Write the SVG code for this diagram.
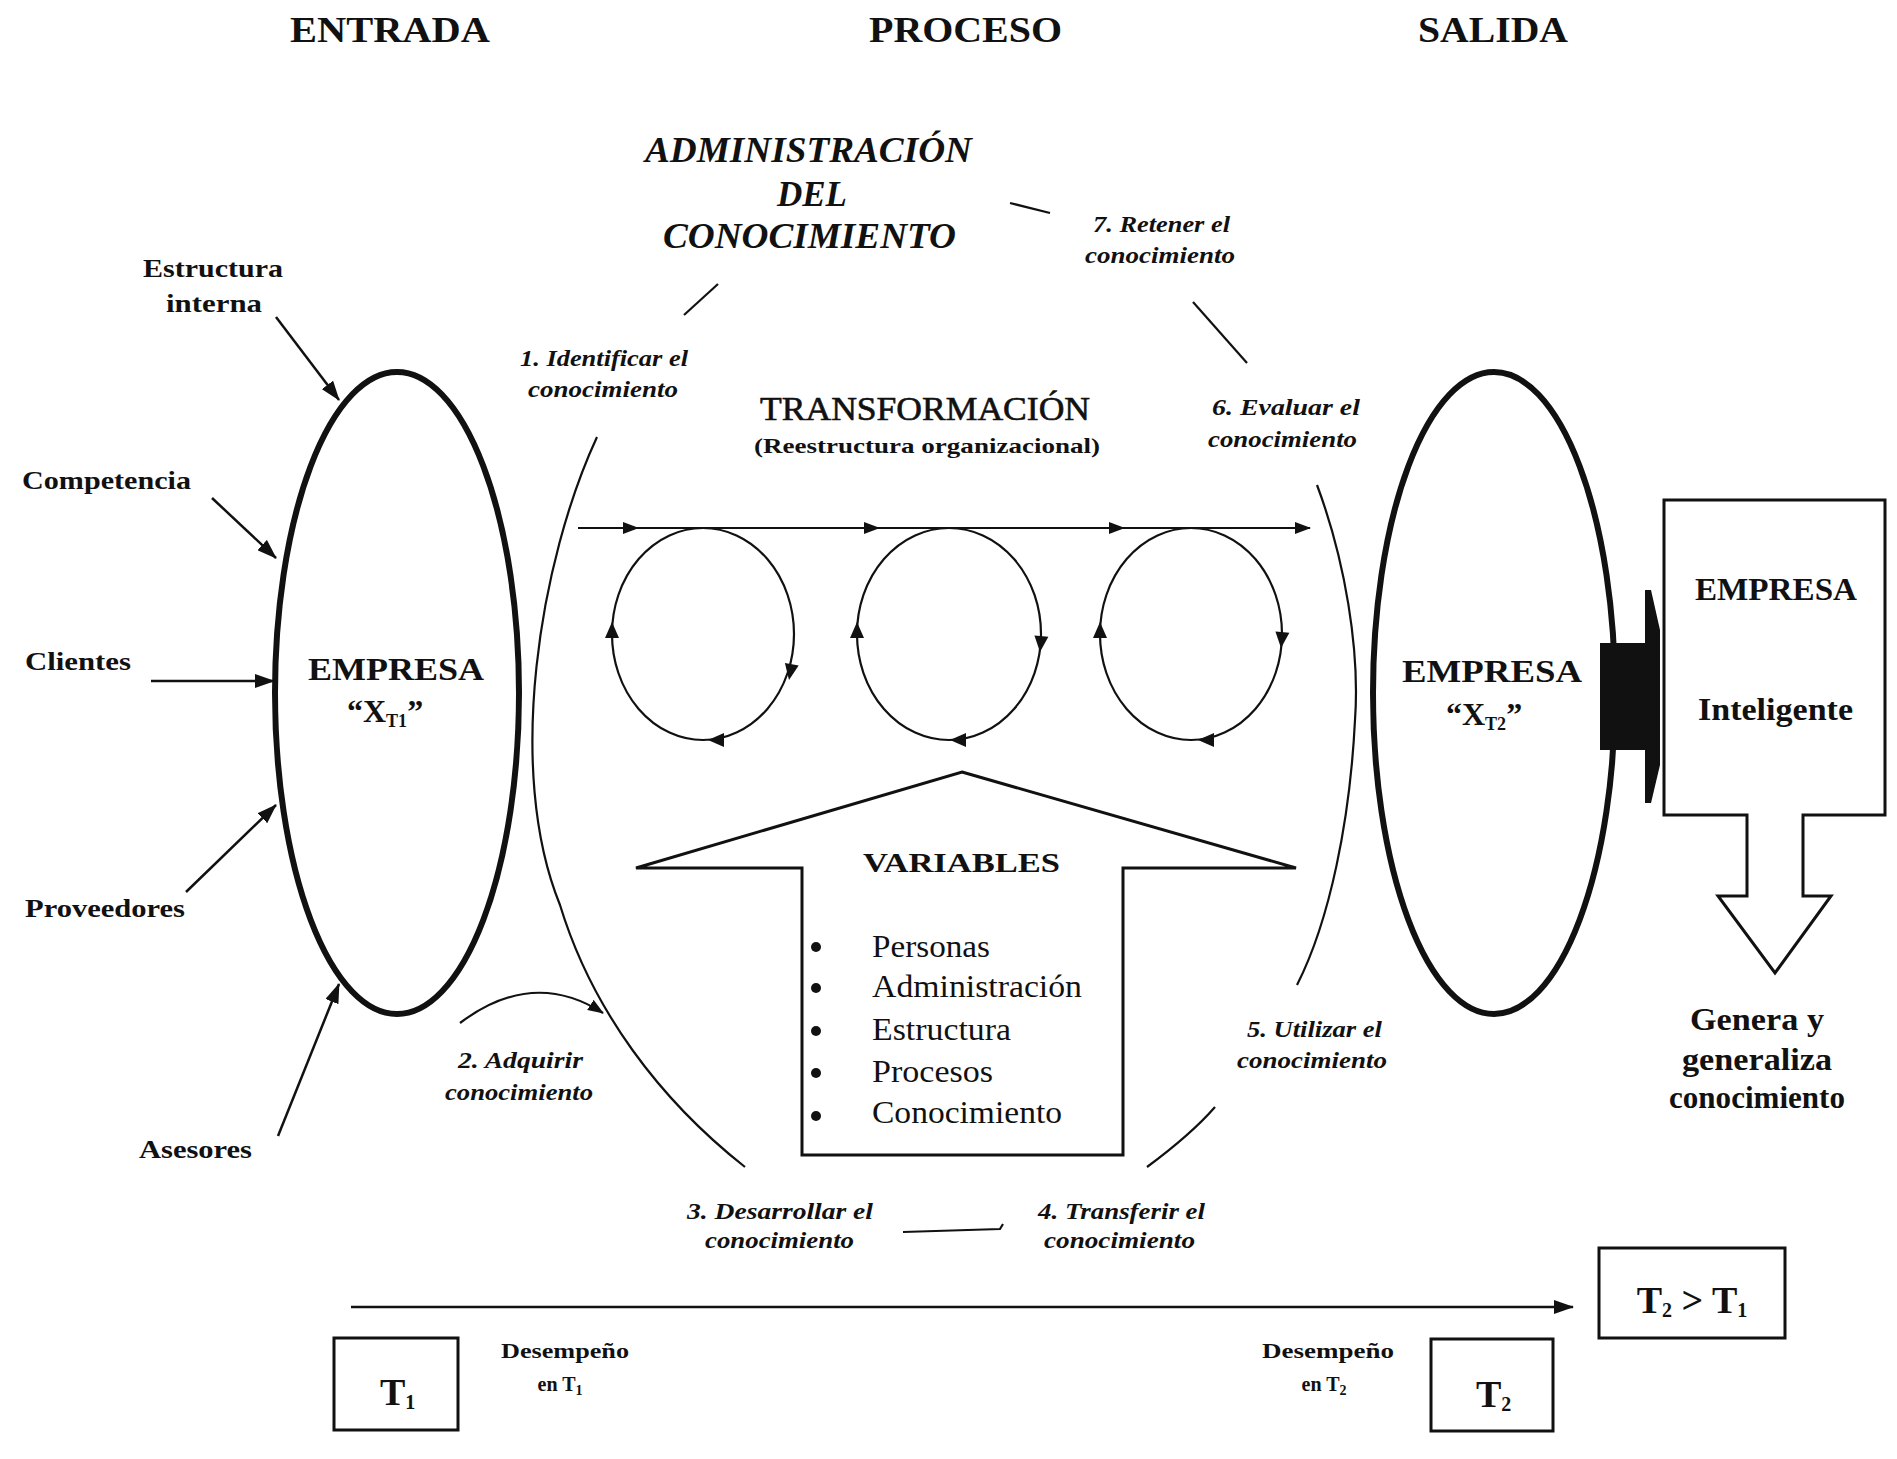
<svg xmlns="http://www.w3.org/2000/svg" xmlns:xlink="http://www.w3.org/1999/xlink" width="1897" height="1459" viewBox="0 0 1897 1459">
<style>
text{font-family:"Liberation Serif","Times New Roman",serif;fill:#111}
.title{font-size:36px;font-weight:bold}
.admin{font-size:36px;font-weight:bold;font-style:italic}
.lab{font-size:26px;font-weight:bold}
.step{font-size:24px;font-weight:bold;font-style:italic}
.emp{font-size:32px;font-weight:bold}
.list{font-size:32px}
.small{font-size:20px;font-weight:bold}
.big{font-size:38px;font-weight:bold}
.thick{fill:none;stroke:#111;stroke-width:6}
.thin{fill:none;stroke:#111;stroke-width:2.2}
.line{fill:none;stroke:#111;stroke-width:2.5}
.box{fill:#fff;stroke:#111;stroke-width:3}
.arr{fill:none;stroke:#111;stroke-width:2.5;marker-end:url(#ah)}
.arrs{fill:none;stroke:#111;stroke-width:2.2;marker-end:url(#ahs)}
</style>
<defs>
<marker id="ah" viewBox="0 0 20 14" refX="19" refY="7" markerWidth="20" markerHeight="14" markerUnits="userSpaceOnUse" orient="auto"><path d="M0,0 L20,7 L0,14 z" fill="#111"/></marker>
<marker id="ahs" viewBox="0 0 16 12" refX="15" refY="6" markerWidth="16" markerHeight="12" markerUnits="userSpaceOnUse" orient="auto"><path d="M0,0 L16,6 L0,12 z" fill="#111"/></marker>
<path id="tri" d="M0,0 L-16,-7 L-16,7 z" fill="#111"/>
</defs>
<rect width="1897" height="1459" fill="#fff"/>

<g id="headers">
<text class="title" x="290" y="42" textLength="200" lengthAdjust="spacingAndGlyphs">ENTRADA</text>
<text class="title" x="869" y="42" textLength="193" lengthAdjust="spacingAndGlyphs">PROCESO</text>
<text class="title" x="1418" y="42" textLength="150" lengthAdjust="spacingAndGlyphs">SALIDA</text>
</g>

<g id="admin-title">
<text class="admin" x="645" y="162" textLength="327" lengthAdjust="spacingAndGlyphs">ADMINISTRACIÓN</text>
<text class="admin" x="777" y="206" textLength="70" lengthAdjust="spacingAndGlyphs">DEL</text>
<text class="admin" x="663" y="248" textLength="293" lengthAdjust="spacingAndGlyphs">CONOCIMIENTO</text>
</g>

<g id="inputs">
<text class="lab" x="143" y="277" textLength="140" lengthAdjust="spacingAndGlyphs">Estructura</text>
<text class="lab" x="166" y="312" textLength="96" lengthAdjust="spacingAndGlyphs">interna</text>
<text class="lab" x="22" y="489" textLength="169" lengthAdjust="spacingAndGlyphs">Competencia</text>
<text class="lab" x="25" y="670" textLength="106" lengthAdjust="spacingAndGlyphs">Clientes</text>
<text class="lab" x="25" y="917" textLength="160" lengthAdjust="spacingAndGlyphs">Proveedores</text>
<text class="lab" x="139" y="1158" textLength="113" lengthAdjust="spacingAndGlyphs">Asesores</text>
</g>

<g id="empresa-t1">
<ellipse class="thick" cx="397" cy="693" rx="122" ry="321"/>
<text class="emp" x="308" y="680" textLength="176" lengthAdjust="spacingAndGlyphs">EMPRESA</text>
<text class="emp" x="347" y="722">“X<tspan font-size="18" dy="5">T1</tspan><tspan dy="-5">”</tspan></text>
</g>

<g id="empresa-t2">
<ellipse class="thick" cx="1494" cy="693" rx="121" ry="321"/>
<text class="emp" x="1402" y="682" textLength="180" lengthAdjust="spacingAndGlyphs">EMPRESA</text>
<text class="emp" x="1446" y="725">“X<tspan font-size="18" dy="5">T2</tspan><tspan dy="-5">”</tspan></text>
</g>

<g id="connector-block">
<rect x="1600" y="643" width="60" height="107" fill="#111"/>
<polygon points="1645,590 1651,590 1660,630 1660,765 1651,803 1645,803" fill="#111"/>
</g>

<g id="empresa-inteligente">
<polygon class="box" points="1664,500 1885,500 1885,815 1803,815 1803,896 1831,896 1775,973 1718,896 1747,896 1747,815 1664,815"/>
<text class="emp" x="1695" y="600" textLength="162" lengthAdjust="spacingAndGlyphs">EMPRESA</text>
<text class="emp" x="1698" y="720" textLength="155" lengthAdjust="spacingAndGlyphs">Inteligente</text>
</g>

<g id="genera">
<text class="emp" x="1757" y="1030" text-anchor="middle" font-size="28" textLength="134" lengthAdjust="spacingAndGlyphs">Genera y</text>
<text class="emp" x="1757" y="1070" text-anchor="middle" font-size="28" textLength="150" lengthAdjust="spacingAndGlyphs">generaliza</text>
<text class="emp" x="1757" y="1108" text-anchor="middle" font-size="28" textLength="176" lengthAdjust="spacingAndGlyphs">conocimiento</text>
</g>

<g id="transformacion">
<text x="760" y="420" font-size="33" textLength="330" lengthAdjust="spacingAndGlyphs" stroke="#111" stroke-width="0.6">TRANSFORMACIÓN</text>
<text x="754" y="453" font-size="22" font-weight="bold" textLength="346" lengthAdjust="spacingAndGlyphs">(Reestructura organizacional)</text>
</g>

<g id="cycles">
<ellipse class="thin" cx="703" cy="634" rx="91" ry="106"/>
<ellipse class="thin" cx="949" cy="634" rx="92" ry="106"/>
<ellipse class="thin" cx="1191" cy="634" rx="91" ry="106"/>
<use xlink:href="#tri" href="#tri" transform="translate(612,622) rotate(-90)"/>
<use xlink:href="#tri" href="#tri" transform="translate(789,680) rotate(100)"/>
<use xlink:href="#tri" href="#tri" transform="translate(708,740) rotate(180)"/>
<use xlink:href="#tri" href="#tri" transform="translate(857,622) rotate(-90)"/>
<use xlink:href="#tri" href="#tri" transform="translate(1040,652) rotate(95)"/>
<use xlink:href="#tri" href="#tri" transform="translate(950,740) rotate(180)"/>
<use xlink:href="#tri" href="#tri" transform="translate(1100,622) rotate(-90)"/>
<use xlink:href="#tri" href="#tri" transform="translate(1281,648) rotate(95)"/>
<use xlink:href="#tri" href="#tri" transform="translate(1198,740) rotate(180)"/>
</g>

<g id="variables">
<polygon class="box" points="962,772 1296,868 1123,868 1123,1155 802,1155 802,868 636,868"/>
<text x="863" y="872" font-size="28" font-weight="bold" textLength="197" lengthAdjust="spacingAndGlyphs">VARIABLES</text>
<circle cx="816" cy="947" r="5" fill="#111"/>
<circle cx="816" cy="988" r="5" fill="#111"/>
<circle cx="816" cy="1031" r="5" fill="#111"/>
<circle cx="816" cy="1073" r="5" fill="#111"/>
<circle cx="816" cy="1116" r="5" fill="#111"/>
<text class="list" x="872" y="957" textLength="118" lengthAdjust="spacingAndGlyphs">Personas</text>
<text class="list" x="872" y="997" textLength="210" lengthAdjust="spacingAndGlyphs">Administración</text>
<text class="list" x="872" y="1040" textLength="139" lengthAdjust="spacingAndGlyphs">Estructura</text>
<text class="list" x="872" y="1082" textLength="121" lengthAdjust="spacingAndGlyphs">Procesos</text>
<text class="list" x="872" y="1123" textLength="190" lengthAdjust="spacingAndGlyphs">Conocimiento</text>
</g>

<g id="steps">
<text class="step" x="520" y="366" textLength="168" lengthAdjust="spacingAndGlyphs">1. Identificar el</text>
<text class="step" x="528" y="397" textLength="150" lengthAdjust="spacingAndGlyphs">conocimiento</text>
<text class="step" x="458" y="1068" textLength="125" lengthAdjust="spacingAndGlyphs">2. Adquirir</text>
<text class="step" x="445" y="1100" textLength="148" lengthAdjust="spacingAndGlyphs">conocimiento</text>
<text class="step" x="687" y="1219" textLength="186" lengthAdjust="spacingAndGlyphs">3. Desarrollar el</text>
<text class="step" x="705" y="1248" textLength="149" lengthAdjust="spacingAndGlyphs">conocimiento</text>
<text class="step" x="1038" y="1219" textLength="167" lengthAdjust="spacingAndGlyphs">4. Transferir el</text>
<text class="step" x="1044" y="1248" textLength="151" lengthAdjust="spacingAndGlyphs">conocimiento</text>
<text class="step" x="1247" y="1037" textLength="135" lengthAdjust="spacingAndGlyphs">5. Utilizar el</text>
<text class="step" x="1237" y="1068" textLength="150" lengthAdjust="spacingAndGlyphs">conocimiento</text>
<text class="step" x="1212" y="415" textLength="148" lengthAdjust="spacingAndGlyphs">6. Evaluar el</text>
<text class="step" x="1208" y="447" textLength="149" lengthAdjust="spacingAndGlyphs">conocimiento</text>
<text class="step" x="1093" y="232" textLength="137" lengthAdjust="spacingAndGlyphs">7. Retener el</text>
<text class="step" x="1085" y="263" textLength="150" lengthAdjust="spacingAndGlyphs">conocimiento</text>
</g>

<g id="time">
<rect class="box" x="334" y="1338" width="124" height="92"/>
<text class="big" x="380" y="1405">T<tspan font-size="20" dy="4">1</tspan></text>
<rect class="box" x="1431" y="1339" width="122" height="92"/>
<text class="big" x="1476" y="1407">T<tspan font-size="20" dy="4">2</tspan></text>
<rect class="box" x="1599" y="1248" width="186" height="90"/>
<text class="big" x="1692" y="1313" text-anchor="middle">T<tspan font-size="20" dy="4">2</tspan><tspan dy="-4"> &gt; T</tspan><tspan font-size="20" dy="4">1</tspan></text>
<text class="small" x="565" y="1358" text-anchor="middle" textLength="128" lengthAdjust="spacingAndGlyphs">Desempeño</text>
<text class="small" x="560" y="1391" text-anchor="middle">en T<tspan font-size="14" dy="4">1</tspan></text>
<text class="small" x="1328" y="1358" text-anchor="middle" textLength="132" lengthAdjust="spacingAndGlyphs">Desempeño</text>
<text class="small" x="1324" y="1391" text-anchor="middle">en T<tspan font-size="14" dy="4">2</tspan></text>
</g>

<g id="connectors">
<line class="arr" x1="276" y1="317" x2="339" y2="400"/>
<line class="arr" x1="212" y1="498" x2="276" y2="558"/>
<line class="arr" x1="151" y1="681" x2="274" y2="681"/>
<line class="arr" x1="186" y1="892" x2="276" y2="805"/>
<line class="arr" x1="278" y1="1136" x2="339" y2="984"/>
<line class="arrs" x1="578" y1="528" x2="638" y2="528"/>
<line class="arrs" x1="638" y1="528" x2="879" y2="528"/>
<line class="arrs" x1="879" y1="528" x2="1124" y2="528"/>
<line class="arrs" x1="1124" y1="528" x2="1310" y2="528"/>
<path class="thin" d="M684,315 L718,284"/>
<path class="thin" d="M1010,203 L1050,213"/>
<path class="thin" d="M1193,302 L1247,363"/>
<path class="thin" d="M597,437 C540,560 505,770 560,905 C592,1010 660,1100 745,1167"/>
<path class="thin" d="M1317,485 C1345,560 1360,650 1355,720 C1350,820 1330,920 1297,985"/>
<path class="thin" d="M1215,1107 C1195,1130 1170,1150 1147,1167"/>
<path class="thin" d="M903,1232 L1000,1229 L1003,1224"/>
<path class="arrs" d="M460,1023 Q533,968 603,1013"/>
<line class="arr" x1="351" y1="1307" x2="1573" y2="1307"/>
</g>
</svg>
